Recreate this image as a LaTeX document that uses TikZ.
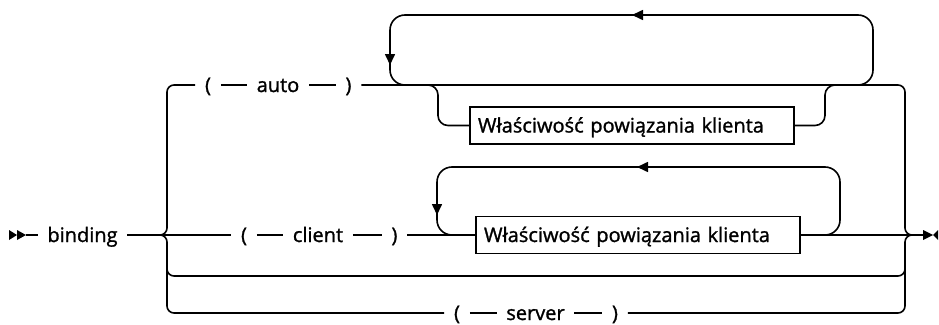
\documentclass[tikz,border=0pt]{standalone}
\usepackage{fontspec}
\setmainfont{Open Sans}
\font\railfnt="Open Sans:embolden=1.3" at 20pt
\usetikzlibrary{arrows.meta}
\begin{document}
\begin{tikzpicture}[x=1pt,y=-1pt,line width=1.6pt,
  every node/.style={font=\railfnt, text height=16pt, text depth=2pt},
  term/.style={inner xsep=9pt, inner ysep=2pt},
  boxst/.style={draw, line width=1.4pt, minimum height=37pt, text width=308pt, inner xsep=8pt, align=left},
  rail/.style={rounded corners=7pt},
  loopst/.style={rounded corners=15pt},
  optst/.style={rounded corners=10pt},
  tipst/.style={-{Triangle[length=11pt,width=10pt]}}]
\useasboundingbox (0,0) rectangle (939,324);

% nodes
\node[term] (bind) at (82.5,235) {binding};
\node[term] (ao) at (208,85) {(};
\node[term] (aw) at (278,85) {auto};
\node[term] (ac) at (348.5,85) {)};
\node[term] (co) at (244,235) {(};
\node[term] (cw) at (318,235) {client};
\node[term] (cc) at (394.5,235) {)};
\node[term] (so) at (457,313) {(};
\node[term] (sw) at (535.5,313) {server};
\node[term] (sc) at (615,313) {)};
\node[boxst] (b1) at (632,125.5) {Właściwość powiązania klienta};
\node[boxst] (b2) at (638,235) {Właściwość powiązania klienta};

\coordinate (s1) at (26,235);
\coordinate (L) at (158,235);
\coordinate (R) at (915,235);
\coordinate (e1) at (923,235);

% start marker
\fill (9,230) -- (17,235) -- (9,240) -- cycle;
\fill (17,230) -- (26,235) -- (17,240) -- cycle;
\draw (s1) -- (bind.west);

% main line and client row
\draw (bind.east) -- (co.west);
\draw (co) -- (cw);
\draw (cw) -- (cc);
\draw (cc.east) -- (b2.west);
\draw (b2.east) -- (e1);

% auto row
\draw (ao) -- (aw);
\draw (aw) -- (ac);
% server row
\draw (so) -- (sw);
\draw (sw) -- (sc);

% left bracket
\draw[rail] (L) -| (167,85) -- (ao.west);
\draw[rail] (L) -| (167,313) -- (so.west);
\draw[rail] (167,262) |- (536,276) -| (905,262);

% right bracket
\draw[rail] (ac.east) -- (905,85) |- (R);
\draw[rail] (sc.east) -- (905,313) |- (R);

% end marker
\fill (923,230) -- (933,235) -- (923,240) -- cycle;
\fill (938,230) -- (933,235) -- (938,240) -- cycle;

% auto repeat loop
\draw[loopst,tipst] (845,85) -| (873,15) -- (632,15);
\draw[loopst,tipst] (640,15) -| (390,65);
\draw[loopst] (390,62) |- (420,85);
% optional property in auto row
\draw[optst] (425,85) -| (438,125.5) -- (b1.west);
\draw[optst] (b1.east) -| (825,85) -- (838,85);

% client repeat loop
\draw[loopst,tipst] (820,235) -| (840,167) -- (637,167);
\draw[loopst,tipst] (645,167) -| (437,215);
\draw[loopst] (437,212) |- (460,235);
\end{tikzpicture}
\end{document}
